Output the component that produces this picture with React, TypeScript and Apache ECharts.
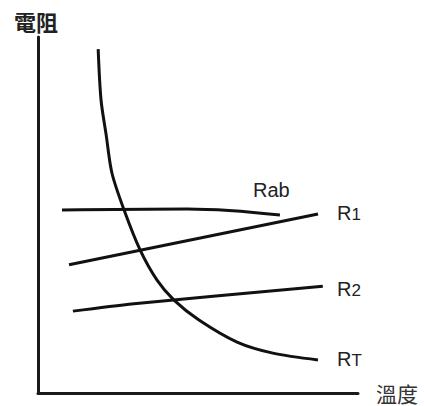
import React, { useEffect, useRef } from "react";
import * as echarts from "echarts";

// Curves (x: temperature 0-100, y: resistance 0-100)
const rtCurve: [number, number][] = [
  [18.8, 96.6], [19.7, 82.3], [21.3, 72.5], [23.1, 61.8], [26.9, 51.4],
  [31.9, 40.2], [37.2, 31.7], [42.5, 26.1], [50.3, 20.5], [62.2, 14.3],
  [73.4, 11.2], [87.5, 9.3],
];
const r1Line: [number, number][] = [[9.7, 36.0], [87.5, 50.3]];
const r2Line: [number, number][] = [[10.9, 23.0], [30.0, 25.1], [89.0, 30.0]];
const rabLine: [number, number][] = [[7.5, 51.4], [46.6, 51.7], [75.6, 50.0]];

const yName = "電阻";
const xName = "溫度";

const LATIN = "'Liberation Sans', Arial, sans-serif";
const CJK = "'Noto Sans CJK TC', 'Noto Sans CJK SC', sans-serif";

export default function App() {
  const ref = useRef<HTMLDivElement>(null);
  useEffect(() => {
    document.body.style.margin = "0";
    if (!ref.current) return;
    const chart = echarts.init(ref.current, undefined, { renderer: "svg" });
    const lineStyle = { color: "#111", width: 3 };
    const mk = (name: string, data: [number, number][], smooth: number | boolean) => ({
      name,
      type: "line",
      data,
      smooth,
      showSymbol: false,
      symbol: "none",
      lineStyle,
      silent: true,
    });
    const rich = {
      a: { fontSize: 20, fontFamily: LATIN, fill: "#222", lineHeight: 22, verticalAlign: "bottom" },
      b: { fontSize: 17, fontFamily: LATIN, fill: "#222", lineHeight: 22, verticalAlign: "bottom" },
    };
    const lbl = (x: number, y: number, main: string, sub: string) => ({
      type: "text",
      x,
      y,
      silent: true,
      style: {
        text: sub ? `{a|${main}}{b|${sub}}` : `{a|${main}}`,
        rich,
        fill: "#222",
        verticalAlign: "middle",
        align: "left",
      },
    });
    chart.setOption({
      animation: false,
      backgroundColor: "#fff",
      grid: { left: 38, right: 66, top: 37, bottom: 13 },
      xAxis: {
        type: "value",
        min: 0,
        max: 100,
        name: xName,
        nameLocation: "end",
        nameGap: 18,
        nameTextStyle: { fontSize: 21, color: "#333", fontFamily: CJK, verticalAlign: "middle", lineHeight: 22, padding: [0, 0, 4, 0] },
        axisLine: { show: true, lineStyle: { color: "#1a1a1a", width: 3 } },
        axisTick: { show: false },
        axisLabel: { show: false },
        splitLine: { show: false },
      },
      yAxis: {
        type: "value",
        min: 0,
        max: 100,
        name: yName,
        nameLocation: "end",
        nameGap: 5,
        nameTextStyle: { fontSize: 22, color: "#222", fontFamily: CJK, fontWeight: "bold", align: "center", padding: [0, 4, 0, 0] },
        axisLine: { show: true, lineStyle: { color: "#1a1a1a", width: 3 } },
        axisTick: { show: false },
        axisLabel: { show: false },
        splitLine: { show: false },
      },
      series: [
        mk("RT", rtCurve, 0.3),
        mk("R1", r1Line, false),
        mk("R2", r2Line, 0.3),
        mk("Rab", rabLine, 0.4),
      ],
      graphic: [
        lbl(253, 189, "Rab", ""),
        lbl(337, 212, "R", "1"),
        lbl(337, 288, "R", "2"),
        lbl(337, 358, "R", "T"),
      ],
    });
    return () => chart.dispose();
  }, []);
  return <div ref={ref} style={{ width: 424, height: 406 }} />;
}
